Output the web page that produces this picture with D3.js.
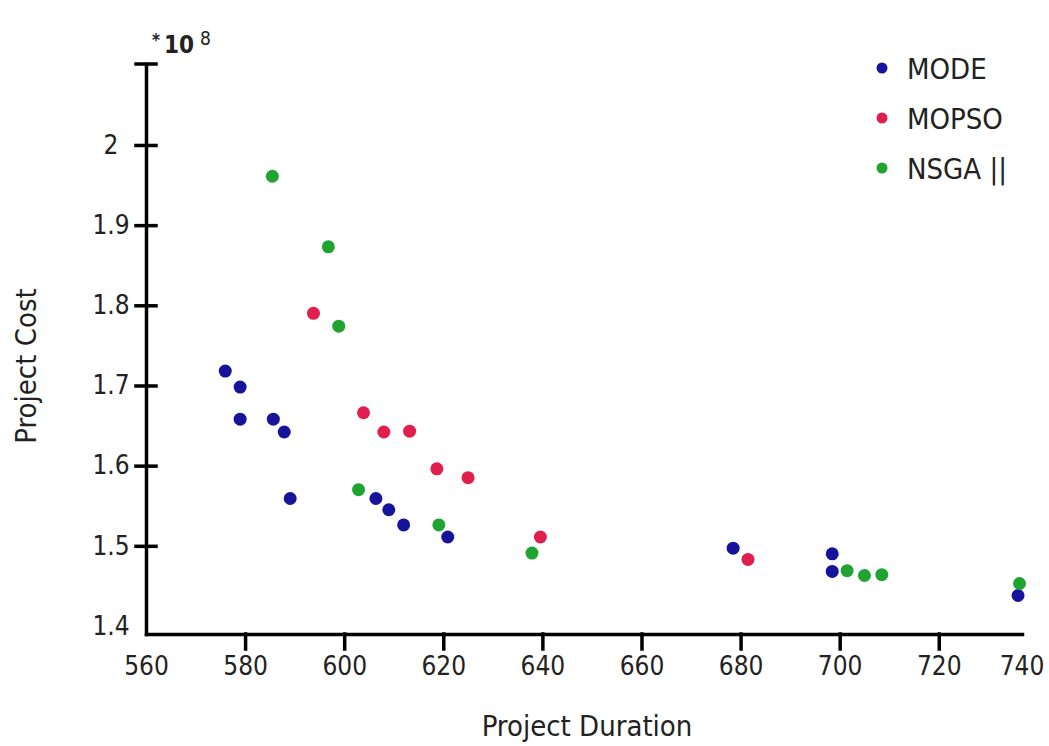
<!DOCTYPE html>
<html>
<head>
<meta charset="utf-8">
<script src="https://cdn.jsdelivr.net/npm/d3@7"></script>
<style>
  body { margin: 0; background: #fff; }
  text { font-family: 'DejaVu Sans Condensed', 'DejaVu Sans', sans-serif; fill: #222; }
  .eje path, .eje line { stroke: #000; stroke-width: 3.5px; stroke-linecap: square; }
  .eje text { font-size: 26px; }
</style>
</head>
<body>
<div id="graf"></div>
<script>
// datos
series = ['MODE', 'MOPSO', 'NSGA ||']
colores = ['#17139b', '#e11f4e', '#1fa52f']

modeX = [576.0, 579.0, 579.0, 585.7, 587.9, 589.1, 606.4, 609.0, 612.0, 620.9, 678.5, 698.5, 698.5, 736.0]
modeY = [1.718, 1.698, 1.658, 1.658, 1.642, 1.559, 1.559, 1.545, 1.526, 1.511, 1.497, 1.490, 1.468, 1.438]

mopsoX = [593.8, 603.9, 608.0, 613.2, 618.7, 625.0, 639.6, 681.5]
mopsoY = [1.790, 1.666, 1.642, 1.643, 1.596, 1.585, 1.511, 1.483]

nsgaX = [585.5, 596.8, 598.9, 602.9, 619.1, 637.9, 701.5, 705.0, 708.5, 736.3]
nsgaY = [1.961, 1.873, 1.774, 1.570, 1.526, 1.491, 1.469, 1.463, 1.464, 1.453]

xTicks = [560, 580, 600, 620, 640, 660, 680, 700, 720]
xUltima = '740'
yTicks = [1.4, 1.5, 1.6, 1.7, 1.8, 1.9, 2]

// configuracion
ancho_total = 1049
alto_total = 746

svg = d3.select('#graf').append('svg')
        .attr('width', ancho_total)
        .attr('height', alto_total)

x = d3.scaleLinear().domain([560, 736.8]).range([146, 1022])
y = d3.scaleLinear().domain([1.39, 2.101]).range([634, 64])

// ejes
xAxisGroup = svg.append('g')
        .attr('class', 'eje')
        .attr('transform', `translate(0, ${ y(1.39) })`)
xAxisGroup.call(d3.axisBottom(x).tickValues(xTicks).tickSize(15).tickSizeOuter(0).tickPadding(8))
xAxisGroup.selectAll('.tick line').filter(d => d == 560).remove()
xAxisGroup.append('text')
        .attr('x', x.range()[1])
        .attr('y', 23)
        .attr('dy', '0.71em')
        .attr('text-anchor', 'middle')
        .style('fill', '#222')
        .text(xUltima)

yAxisGroup = svg.append('g')
        .attr('class', 'eje')
        .attr('transform', `translate(${ x(560) }, 0)`)
yAxisGroup.call(d3.axisLeft(y).tickValues(yTicks).tickFormat(d3.format('.1~f')).tickSize(10).tickSizeOuter(0))
yAxisGroup.selectAll('.tick line').attr('x2', 10).attr('x1', -10)
yAxisGroup.selectAll('.tick line').filter(d => d == 1.4).remove()
yAxisGroup.selectAll('.tick text').attr('x', -35).attr('text-anchor', 'middle')
// tope del eje y
yAxisGroup.append('line')
        .attr('x1', -10).attr('x2', 10)
        .attr('y1', y.range()[1]).attr('y2', y.range()[1])

// multiplicador
svg.append('text').attr('x', 152).attr('y', 46).style('font-weight', 'bold').style('font-size', '17px').text('*')
svg.append('text').attr('x', 164).attr('y', 53).style('font-weight', 'bold').style('font-size', '24px').text('10')
svg.append('text').attr('x', 200).attr('y', 45).style('font-size', '19px').text('8')

// titulos
svg.append('text')
        .attr('x', 587).attr('y', 736)
        .attr('text-anchor', 'middle')
        .style('font-size', '29px')
        .text('Project Duration')

svg.append('text')
        .attr('transform', 'translate(36, 366) rotate(-90)')
        .attr('text-anchor', 'middle')
        .style('font-size', '29px')
        .text('Project Cost')

// puntos
datos = [
    modeX.map((d, i) => ({ s: 0, x: d, y: modeY[i] })),
    mopsoX.map((d, i) => ({ s: 1, x: d, y: mopsoY[i] })),
    nsgaX.map((d, i) => ({ s: 2, x: d, y: nsgaY[i] }))
].flat()

svg.append('g').selectAll('circle')
        .data(datos)
        .enter()
        .append('circle')
        .attr('cx', d => x(d.x))
        .attr('cy', d => y(d.y))
        .attr('r', 6.5)
        .style('fill', d => colores[d.s])

// leyenda
leyenda = svg.append('g').selectAll('g')
        .data(series)
        .enter()
        .append('g')
        .attr('transform', (d, i) => `translate(882, ${ 68 + i * 50 })`)

leyenda.append('circle')
        .attr('r', 5.5)
        .style('fill', (d, i) => colores[i])

leyenda.append('text')
        .attr('x', 25)
        .attr('y', 11)
        .style('font-size', '29px')
        .text(d => d)
</script>
</body>
</html>
